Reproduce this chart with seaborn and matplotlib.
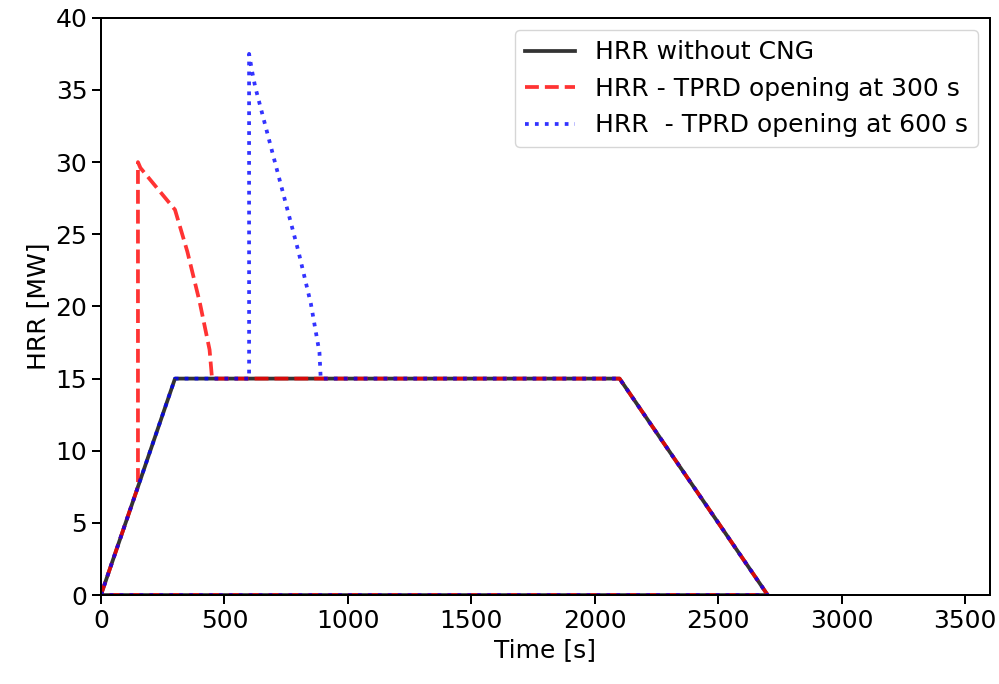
import matplotlib
matplotlib.use("Agg")
import matplotlib.pyplot as plt
import seaborn as sns
import pandas as pd

# time [s] and HRR [MW] for each curve (curves close back to the origin)
t_base = [0, 300, 2100, 2700, 0]
hrr_base = [0, 15, 15, 0, 0]

t_300 = [0, 150, 150, 160, 300, 350, 400, 440, 445, 450, 2100, 2700, 0]
hrr_300 = [0, 7.5, 30, 29.6, 26.7, 23.8, 20.3, 17.0, 16.0, 15, 15, 0, 0]

t_600 = [0, 300, 600, 600, 612, 625, 700, 800, 850, 885, 890, 2100, 2700, 0]
hrr_600 = [0, 15, 15, 37.5, 36.3, 35.2, 30.3, 23.8, 20.2, 16.8, 15, 15, 0, 0]

s = 1.8
plt.rcParams['font.size'] = 10 * s
plt.rcParams['xtick.major.size'] = 3.5 * s
plt.rcParams['ytick.major.size'] = 3.5 * s
plt.rcParams['axes.linewidth'] = 0.8 * s
plt.rcParams['xtick.major.width'] = 0.8 * s
plt.rcParams['ytick.major.width'] = 0.8 * s

fig, ax = plt.subplots(figsize=(9.99, 6.84), dpi=100)
fig.subplots_adjust(left=0.101, right=0.991, top=0.974, bottom=0.130)

df_base = pd.DataFrame({'t': t_base, 'hrr': hrr_base})
df_300 = pd.DataFrame({'t': t_300, 'hrr': hrr_300})
df_600 = pd.DataFrame({'t': t_600, 'hrr': hrr_600})

sns.lineplot(data=df_base, x='t', y='hrr', sort=False, estimator=None, ax=ax,
             color='k', alpha=0.8, lw=1.5 * s, label='HRR without CNG')
sns.lineplot(data=df_300, x='t', y='hrr', sort=False, estimator=None, ax=ax,
             color='r', alpha=0.8, lw=1.5 * s, linestyle='--',
             label='HRR - TPRD opening at 300 s')
sns.lineplot(data=df_600, x='t', y='hrr', sort=False, estimator=None, ax=ax,
             color='b', alpha=0.8, lw=1.5 * s, linestyle=':',
             label='HRR  - TPRD opening at 600 s')

ax.set_xlim(0, 3600)
ax.set_ylim(0, 40)
ax.set_xlabel('Time [s]')
ax.set_ylabel('HRR [MW]')
ax.legend(loc='upper right')

fig.savefig('out.png', dpi=100)
